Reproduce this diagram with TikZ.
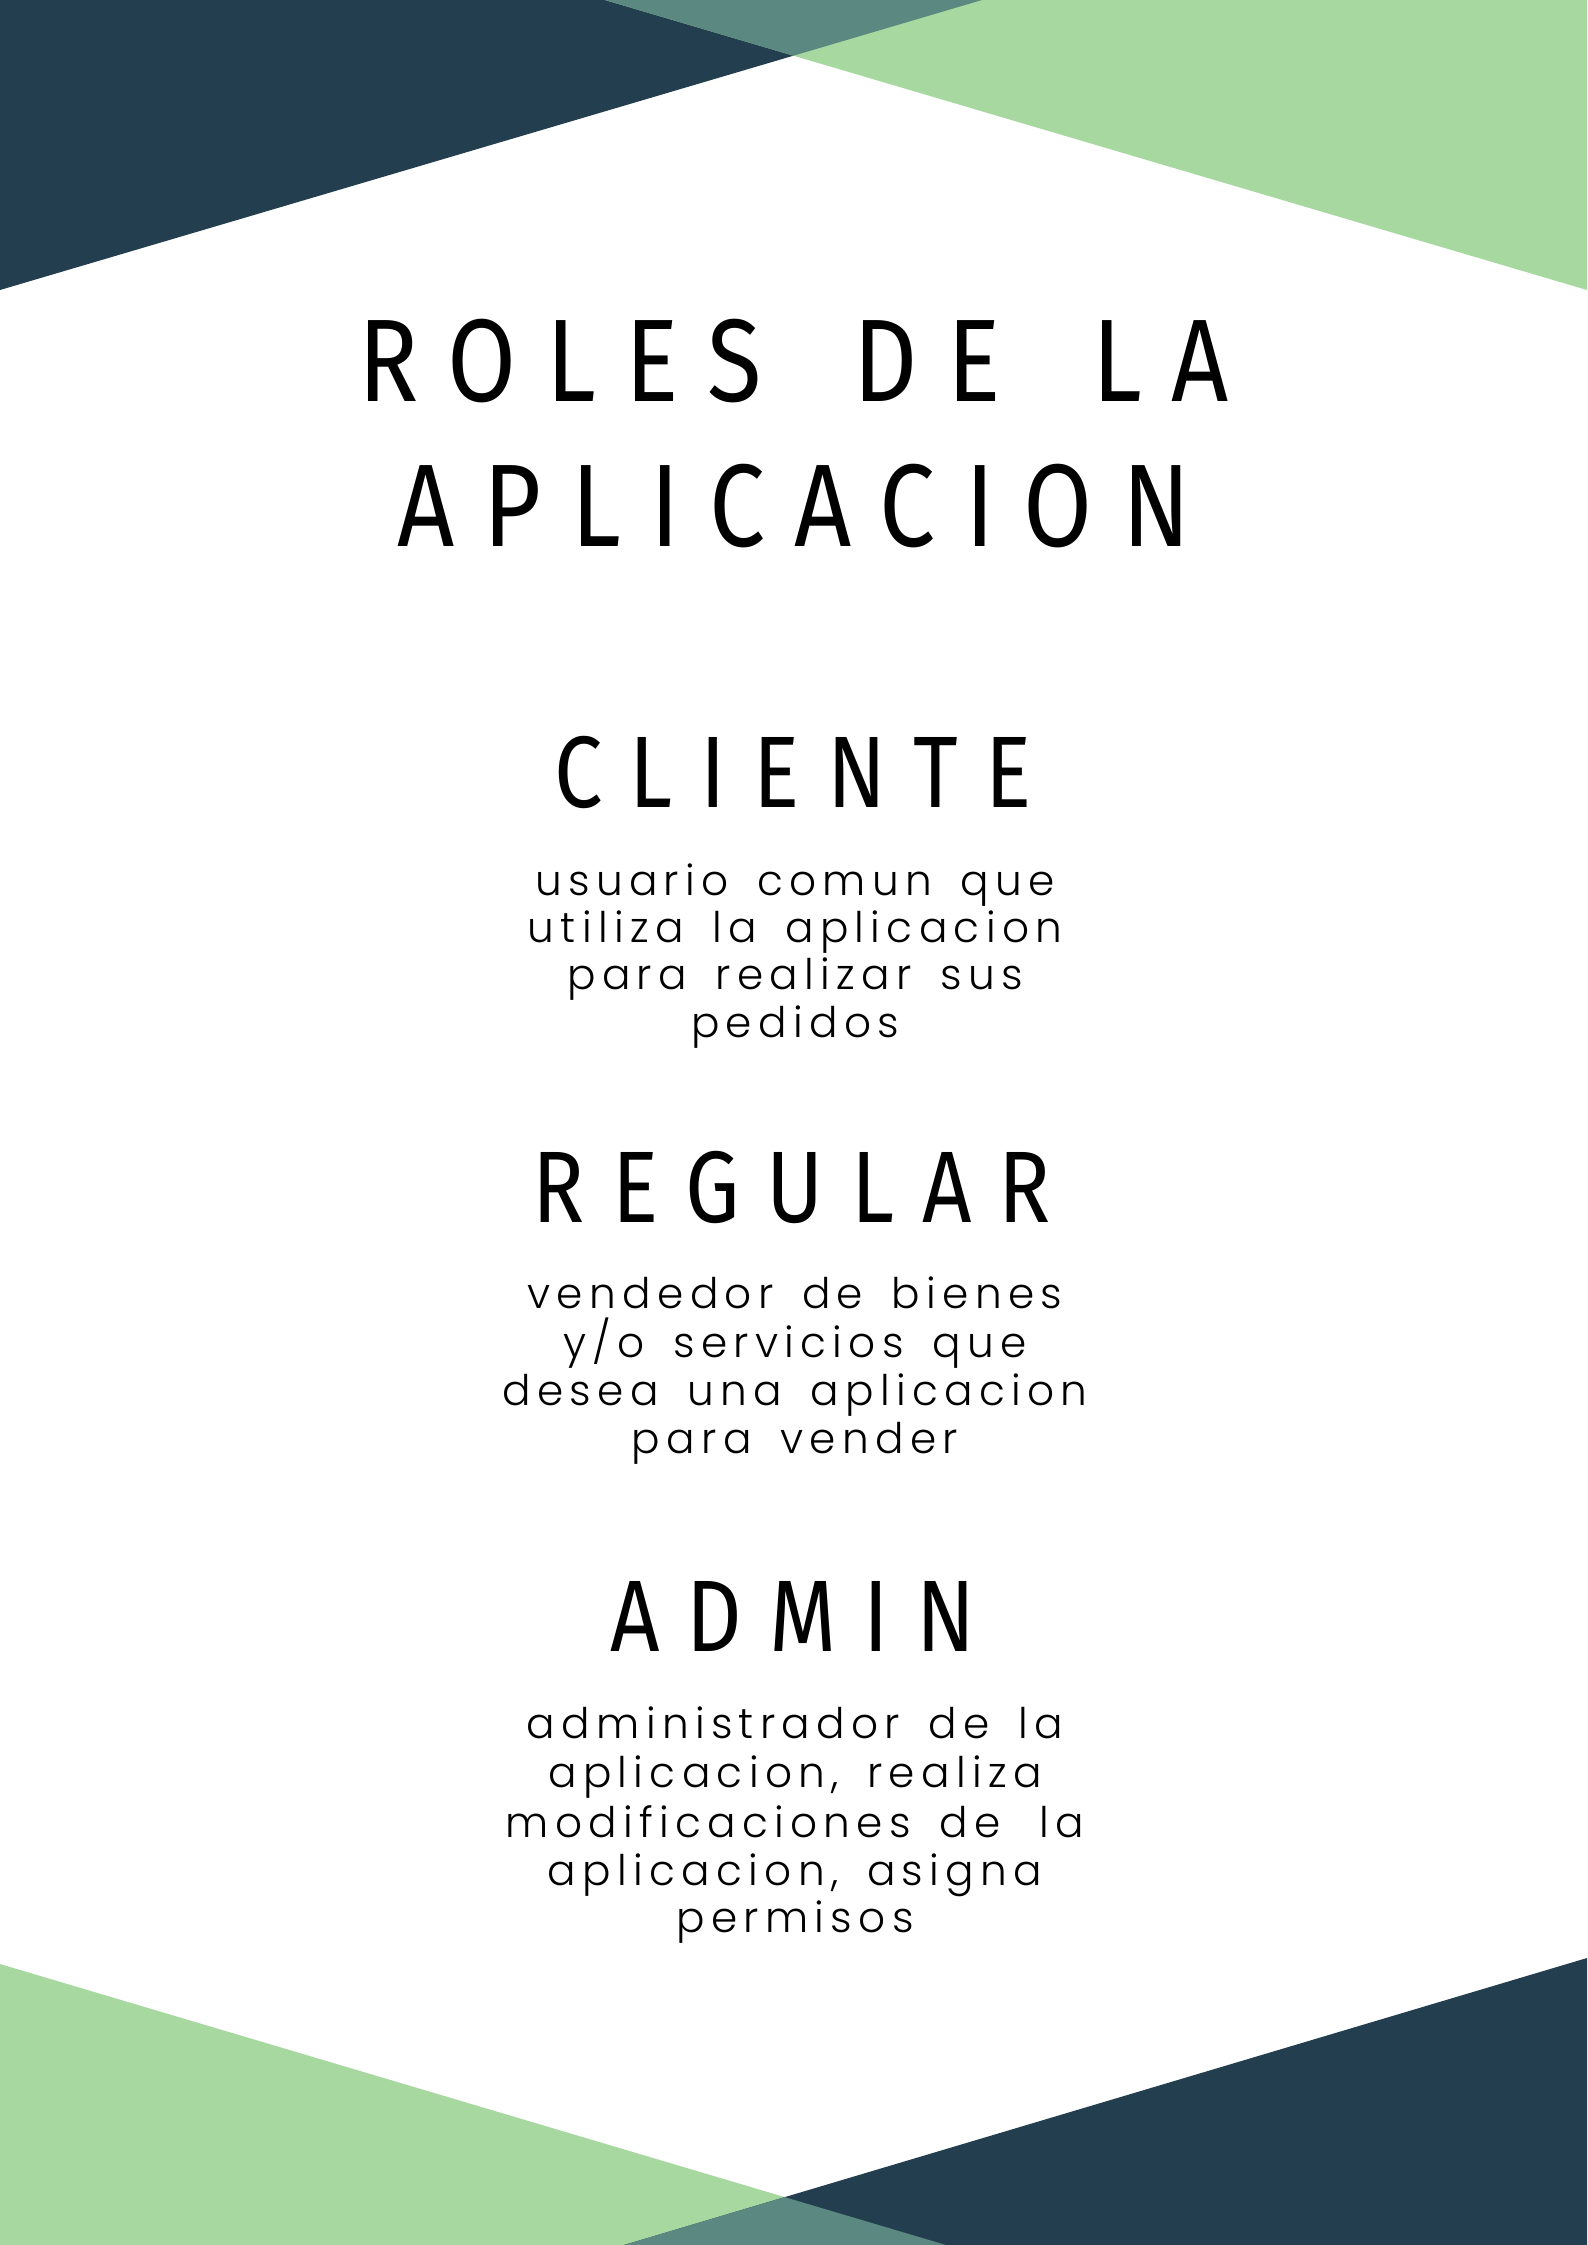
\documentclass[tikz,border=0pt]{standalone}
\usepackage{fontspec}
\newfontfamily\titlefont{Fira Sans}[FakeStretch=0.85, LetterSpace=25, WordSpace=1.65]
\newfontfamily\headfont{Fira Sans}[FakeStretch=0.85, LetterSpace=27]
\newfontfamily\bodyfont{Poppins}[UprightFont=* Light, LetterSpace=15, WordSpace=1.6]
\definecolor{darkblue}{HTML}{233F4F}
\definecolor{lightgreen}{HTML}{A6D8A0}
\definecolor{tealmix}{HTML}{5B8880}
\begin{document}
\begin{tikzpicture}[x=0.01cm,y=-0.01cm,
  txt/.style={inner sep=0pt, anchor=base, text=black},
  ttl/.style={txt, font=\titlefont\fontsize{33.4}{40}\selectfont},
  hdr/.style={txt, font=\headfont\fontsize{28.9}{34}\selectfont},
  bdy/.style={txt, font=\bodyfont\fontsize{12}{14}\selectfont}]
\useasboundingbox (0,0) rectangle (1587,2245);
\fill[white] (0,0) rectangle (1587,2245);
% top shapes
\fill[darkblue] (0,0) -- (982,0) -- (0,290) -- cycle;
\fill[lightgreen] (605,0) -- (1587,0) -- (1587,290) -- cycle;
\fill[tealmix] (605,0) -- (982,0) -- (793.5,55.7) -- cycle;
% bottom shapes
\fill[lightgreen] (0,1964) -- (946,2245) -- (0,2245) -- cycle;
\fill[darkblue] (1587,1958) -- (1587,2245) -- (624,2245) -- cycle;
\fill[tealmix] (624,2245) -- (784.7,2197.1) -- (946,2245) -- cycle;
% title
\node[ttl] (t1) at (794,401) {ROLES DE LA};
\node[ttl] (t2) at (794,546) {APLICACION};
% cliente
\node[hdr] (h1) at (793,807) {CLIENTE};
\node[bdy] (c1) at (795,895) {usuario comun que};
\node[bdy] (c2) at (795,942) {utiliza la aplicacion};
\node[bdy] (c3) at (795,989) {para realizar sus};
\node[bdy] (c4) at (795,1037) {pedidos};
% regular
\node[hdr] (h2) at (792,1222) {REGULAR};
\node[bdy] (r1) at (795,1308) {vendedor de bienes};
\node[bdy] (r2) at (795,1357) {y/o servicios que};
\node[bdy] (r3) at (795,1405) {desea una aplicacion};
\node[bdy] (r4) at (795,1453) {para vender};
% admin
\node[hdr] (h3) at (793,1651) {ADMIN};
\node[bdy] (a1) at (795,1738) {administrador de la};
\node[bdy] (a2) at (795,1787) {aplicacion, realiza};
\node[bdy] (a3) at (795,1837) {modificaciones de \hspace{3pt}la};
\node[bdy] (a4) at (795,1885) {aplicacion, asigna};
\node[bdy] (a5) at (795,1932) {permisos};
\end{tikzpicture}
\end{document}
